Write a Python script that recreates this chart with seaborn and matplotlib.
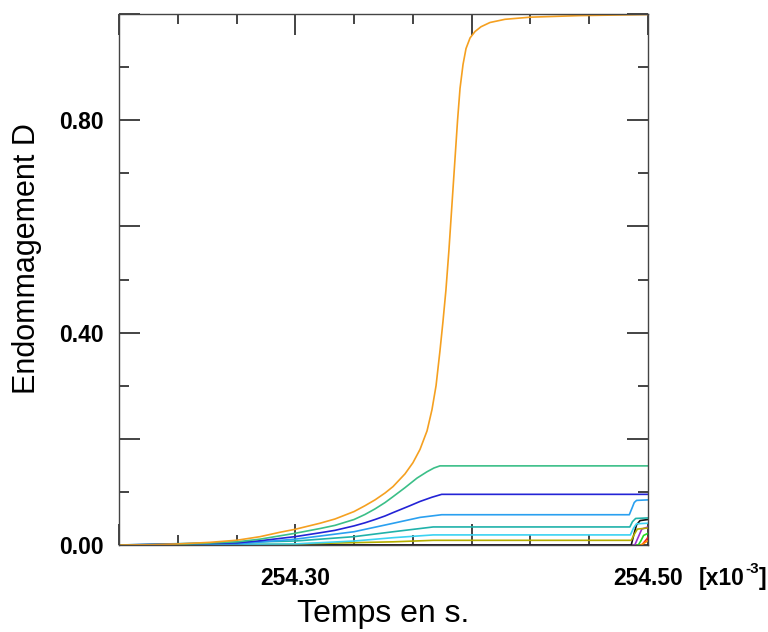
import matplotlib
matplotlib.use("Agg")
import matplotlib.pyplot as plt
from matplotlib.ticker import FixedLocator, FixedFormatter
import seaborn as sns
import pandas as pd

# ---------------- data (time in 1e-3 s, damage D) ----------------
t_orange = [254.2000, 254.2176, 254.2335, 254.2516, 254.2669, 254.2800, 254.2913,
            254.2998, 254.3140, 254.3225, 254.3333, 254.3395, 254.3452, 254.3509,
            254.3554, 254.3622, 254.3667,
            254.3707, 254.3747, 254.3775, 254.3798, 254.3820, 254.3837, 254.3854,
            254.3871, 254.3888, 254.3905, 254.3920, 254.3934, 254.3951, 254.3968,
            254.3991, 254.4019, 254.4053, 254.4104, 254.4189, 254.4331, 254.4614,
            254.5000]
d_orange = [0.000, 0.0005, 0.002, 0.005, 0.009, 0.0157, 0.024,
            0.0295, 0.041, 0.049, 0.063, 0.074, 0.085, 0.098,
            0.110, 0.134, 0.155,
            0.180, 0.215, 0.255, 0.300, 0.365, 0.420, 0.480,
            0.555, 0.640, 0.725, 0.800, 0.860, 0.905, 0.935,
            0.955, 0.967, 0.976, 0.984, 0.990, 0.994, 0.997,
            0.999]

t_green = [254.2000, 254.2335, 254.2669, 254.2800, 254.2998, 254.3140, 254.3225,
           254.3333, 254.3395, 254.3452, 254.3509, 254.3554, 254.3622, 254.3690,
           254.3747, 254.3786, 254.3820, 254.5000]
d_green = [0.000, 0.001, 0.006, 0.011, 0.022, 0.031, 0.037,
           0.048, 0.0575, 0.068, 0.080, 0.091, 0.108, 0.126,
           0.138, 0.145, 0.149, 0.149]

t_blue = [254.2000, 254.2669, 254.2800, 254.2998, 254.3140, 254.3225, 254.3333,
          254.3395, 254.3452, 254.3509, 254.3554, 254.3650, 254.3707, 254.3775,
          254.3830, 254.5000]
d_blue = [0.000, 0.004, 0.008, 0.0157, 0.023, 0.0276, 0.036,
          0.0418, 0.048, 0.0547, 0.061, 0.074, 0.082, 0.090,
          0.0954, 0.0954]

t_lblue = [254.2000, 254.2669, 254.3000, 254.3333, 254.3556, 254.3707, 254.3830,
           254.4894, 254.4910, 254.4922, 254.4935, 254.5000]
d_lblue = [0.000, 0.002, 0.011, 0.025, 0.041, 0.052, 0.057,
           0.057, 0.070, 0.080, 0.084, 0.085]

t_teal = [254.2000, 254.3000, 254.3333, 254.3556, 254.3782, 254.4897, 254.4912,
          254.4930, 254.5000]
d_teal = [0.000, 0.0075, 0.0157, 0.025, 0.034, 0.034, 0.044, 0.050, 0.051]

t_cyan = [254.2000, 254.3000, 254.3333, 254.3556, 254.3782, 254.4900, 254.4918,
          254.4935, 254.5000]
d_cyan = [0.000, 0.002, 0.0075, 0.0138, 0.019, 0.019, 0.032, 0.040, 0.041]

t_olive = [254.2000, 254.3000, 254.3556, 254.3782, 254.4905, 254.4922, 254.4940,
           254.5000]
d_olive = [0.000, 0.002, 0.006, 0.0088, 0.0088, 0.020, 0.030, 0.032]

t_black = [254.2000, 254.4905, 254.4920, 254.4935, 254.4955, 254.5000]
d_black = [0.000, 0.000, 0.020, 0.038, 0.046, 0.048]

t_purple = [254.2000, 254.4925, 254.4945, 254.4965, 254.5000]
d_purple = [0.000, 0.000, 0.015, 0.030, 0.034]

t_lgreen = [254.2000, 254.4945, 254.4960, 254.4975, 254.5000]
d_lgreen = [0.000, 0.000, 0.008, 0.018, 0.022]

t_red = [254.2000, 254.4965, 254.4980, 254.4995, 254.5000]
d_red = [0.000, 0.000, 0.006, 0.012, 0.015]

t_sorange = [254.2000, 254.4960, 254.4985, 254.5000]
d_sorange = [0.000, 0.000, 0.005, 0.008]

x_major = [254.20, 254.30, 254.40, 254.50]
x_major_labels = ["", "254.30", "", "254.50"]
x_minor = [254.2333, 254.2667, 254.3333, 254.3667, 254.4333, 254.4667]
y_major = [0.0, 0.2, 0.4, 0.6, 0.8, 1.0]
y_major_labels = ["0.00", "", "0.40", "", "0.80", ""]
y_minor = [0.1, 0.3, 0.5, 0.7, 0.9]

series = [
    ("red", t_red, d_red, "#ff1a1a"),
    ("sorange", t_sorange, d_sorange, "#ff8c00"),
    ("lgreen", t_lgreen, d_lgreen, "#22dd22"),
    ("purple", t_purple, d_purple, "#9b30d0"),
    ("black", t_black, d_black, "#111111"),
    ("olive", t_olive, d_olive, "#b5ad00"),
    ("cyan", t_cyan, d_cyan, "#3cd2f2"),
    ("teal", t_teal, d_teal, "#20b2aa"),
    ("lblue", t_lblue, d_lblue, "#2aa0f0"),
    ("blue", t_blue, d_blue, "#2323d6"),
    ("green", t_green, d_green, "#3bbf88"),
    ("orange", t_orange, d_orange, "#f5a020"),
]

frames = []
for name, t, d, _ in series:
    frames.append(pd.DataFrame({"t": t, "D": d, "s": name}))
df = pd.concat(frames, ignore_index=True)
palette = {name: c for name, _, _, c in series}

# ---------------- figure ----------------
sns.set_style("white")
plt.rcParams["font.family"] = ["Liberation Sans", "DejaVu Sans"]
plt.rcParams["text.color"] = "black"
plt.rcParams["xtick.labelcolor"] = "black"
plt.rcParams["ytick.labelcolor"] = "black"

fig = plt.figure(figsize=(7.68, 6.32), dpi=100)
ax = fig.add_axes([119 / 768, 1 - 545 / 632, (648 - 119) / 768, (545 - 14) / 632])

sns.lineplot(data=df, x="t", y="D", hue="s", hue_order=[s[0] for s in series],
             palette=palette, sort=False, estimator=None, units="s",
             linewidth=1.2, legend=False, ax=ax)

ax.set_xlim(254.20, 254.50)
ax.set_ylim(0.0, 1.0)
ax.set_xlabel("")
ax.set_ylabel("")

ax.xaxis.set_major_locator(FixedLocator(x_major))
ax.xaxis.set_major_formatter(FixedFormatter(x_major_labels))
ax.xaxis.set_minor_locator(FixedLocator(x_minor))
ax.yaxis.set_major_locator(FixedLocator(y_major))
ax.yaxis.set_major_formatter(FixedFormatter(y_major_labels))
ax.yaxis.set_minor_locator(FixedLocator(y_minor))

ax.tick_params(which="both", direction="in", top=True, right=True,
               bottom=True, left=True, color="#111111", width=1.1)
ax.tick_params(which="major", length=15)
ax.tick_params(which="minor", length=7.5)
ax.tick_params(axis="x", which="major", pad=16, labelsize=16.5)
ax.tick_params(axis="y", which="major", pad=11, labelsize=16.5)
for lab in ax.get_xticklabels() + ax.get_yticklabels():
    lab.set_fontweight("bold")
    lab.set_color("black")

for sp in ax.spines.values():
    sp.set_visible(True)
    sp.set_color("#444444")
    sp.set_linewidth(1.0)

fig.text(383.5 / 768, 1 - 622 / 632, "Temps en s.", ha="center", va="baseline",
         fontsize=23)
fig.text(27 / 768, 1 - 259 / 632, "Endommagement D", ha="center", va="center",
         rotation=90, fontsize=22)

# "[x10^-3]" multiplier, built from pieces placed after measuring
renderer = fig.canvas.get_renderer()
t1 = fig.text(699 / 768, 1 - 585 / 632, "[x10", ha="left", va="baseline",
              fontsize=16.5, fontweight="bold")
bb1 = t1.get_window_extent(renderer)
t2 = fig.text(bb1.x1 / 768 + 0.5 / 768, 1 - 573 / 632, "-3", ha="left",
              va="baseline", fontsize=11, fontweight="bold")
bb2 = t2.get_window_extent(renderer)
fig.text(bb2.x1 / 768, 1 - 585 / 632, "]", ha="left", va="baseline",
         fontsize=16.5, fontweight="bold")

fig.savefig("out.png", dpi=100)
